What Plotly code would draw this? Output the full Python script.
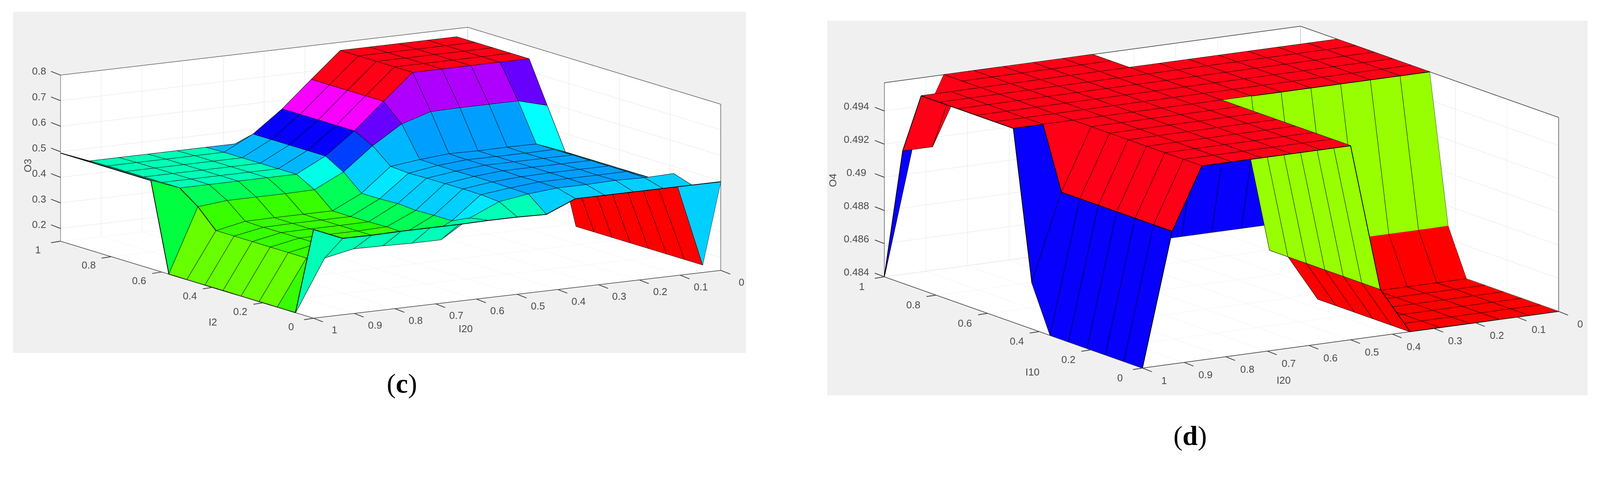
import colorsys
import numpy as np
import plotly.graph_objects as go

# the browser window stops at 4096 wide, so reference x positions are squeezed by SX
W, H = 4096, 1222
SX = W / 4478

# input grid, 15 points each way; index 0 of I20 sits at the front corner (I20 = 1)
I20_GRID = [1, 13/14, 12/14, 11/14, 10/14, 9/14, 8/14, 7/14, 6/14, 5/14, 4/14, 3/14, 2/14, 1/14, 0]
IN_GRID = [0, 1/14, 2/14, 3/14, 4/14, 5/14, 6/14, 7/14, 8/14, 9/14, 10/14, 11/14, 12/14, 13/14, 1]

# panel (c): O3 over I2 (rows) and I20 (columns)
O3 = [
    [.497, .449, .448, .45, .45, .45, .452, .452, .449, .497, .497, .497, .497, .497, .497],
    [.15, .351, .374, .372, .369, .369, .44, .49, .507, .517, .517, .52, .517, .52, .15],
    [.15, .328, .351, .351, .351, .351, .407, .496, .509, .519, .519, .519, .52, .476, .15],
    [.15, .328, .35, .351, .351, .351, .407, .497, .511, .518, .52, .52, .52, .476, .15],
    [.15, .328, .35, .351, .351, .354, .405, .496, .511, .52, .52, .52, .52, .476, .15],
    [.15, .328, .35, .351, .351, .352, .41, .496, .51, .52, .52, .52, .52, .476, .15],
    [.15, .328, .349, .351, .351, .351, .407, .494, .511, .52, .519, .519, .52, .476, .15],
    [.15, .328, .351, .352, .352, .352, .407, .499, .5125, .522, .52, .521, .52, .476, .15],
    [.15, .40, .411, .411, .411, .413, .469, .558, .63, .665, .667, .667, .667, .636, .15],
    [.495, .452, .452, .452, .452, .452, .51, .595, .697, .797, .797, .797, .797, .797, .47],
    [.495, .452, .452, .452, .452, .452, .51, .595, .697, .797, .797, .797, .797, .797, .47],
    [.495, .452, .452, .452, .452, .452, .51, .595, .697, .797, .797, .797, .797, .797, .47],
    [.495, .452, .452, .452, .452, .452, .51, .595, .697, .797, .797, .797, .797, .797, .47],
    [.495, .452, .452, .452, .452, .452, .51, .595, .697, .797, .797, .797, .797, .797, .47],
    [.495, .45, .45, .45, .45, .45, .45, .45, .45, .45, .45, .45, .45, .45, .45],
]

# panel (d): O4 over I10 (rows) and I20 (columns)
O4 = [
    [.484, .492, .4957, .4957, .4957, .4957, .4957, .4957, .4868, .484, .484, .484, .484, .484, .484],
    [.484, .492, .4957, .4957, .4957, .4957, .4957, .4957, .4868, .484, .484, .484, .484, .484, .484],
    [.484, .492, .4957, .4957, .4957, .4957, .4957, .4957, .4868, .484, .484, .484, .484, .484, .484],
    [.484, .492, .4957, .4957, .4957, .4957, .4957, .4957, .4868, .484, .484, .484, .484, .484, .484],
    [.484, .492, .4957, .4957, .4957, .4957, .4957, .4957, .4868, .484, .484, .484, .484, .484, .484],
    [.484, .492, .4957, .4957, .4957, .4957, .4957, .4957, .4868, .484, .484, .484, .484, .484, .484],
    [.4868, .492, .4957, .4957, .4957, .4957, .4957, .4957, .4868, .4868, .4868, .4868, .4868, .4868, .4868],
    [.4957, .4957, .4957, .4957, .4957, .4957, .4957, .4957, .4957, .4957, .4957, .4957, .4957, .4957, .4957],
    [.4957, .4957, .4957, .4957, .4957, .4957, .4957, .4957, .4957, .4957, .4957, .4957, .4957, .4957, .4957],
    [.4957, .4957, .4957, .4957, .4957, .4957, .4957, .4957, .4957, .4957, .4957, .4957, .4957, .4957, .4957],
    [.4957, .4957, .4957, .4957, .4957, .4957, .4957, .4957, .4957, .4957, .4957, .4957, .4957, .4957, .4957],
    [.4957, .4957, .4957, .4957, .4957, .4957, .4957, .4957, .4957, .4957, .4957, .4957, .4957, .4957, .4957],
    [.4957, .4957, .4957, .4957, .4957, .4957, .4957, .4957, .4957, .4957, .4957, .4957, .4957, .4957, .4957],
    [.492, .492, .4957, .4957, .4957, .4957, .4957, .4957, .492, .492, .492, .492, .492, .492, .492],
    [.484, .492, .4957, .4957, .4957, .4957, .4957, .4957, .484, .484, .484, .484, .484, .484, .484],
]

X_TICKS = [0, .1, .2, .3, .4, .5, .6, .7, .8, .9, 1]
Y_TICKS = [0, .2, .4, .6, .8, 1]
O3_TICKS = [.2, .3, .4, .5, .6, .7, .8]
O3_LABELS = ["0.2", "0.3", "0.4", "0.5", "0.6", "0.7", "0.8"]
O4_TICKS = [.484, .486, .488, .49, .492, .494]
O4_LABELS = ["0.484", "0.486", "0.488", "0.49", "0.492", "0.494"]

TICK_FONT = dict(family="Liberation Sans", size=26, color="#4a4a4a")
TICK_COLOR = "#404040"


def hsv64(z, zmin, zmax):
    # MATLAB hsv(64) lookup
    idx = min(int((z - zmin) / (zmax - zmin) * 64), 63)
    r, g, b = colorsys.hsv_to_rgb(idx / 64, 1, 1)
    return f"rgb({int(r*255)},{int(g*255)},{int(b*255)})"


def surface_traces(grid, zmin, zmax, scene):
    z = np.array(grid)
    xs, ys = np.meshgrid(I20_GRID, IN_GRID)
    n = z.shape[0]
    a, b, c, colors = [], [], [], []
    for j in range(n - 1):
        for i in range(n - 1):
            p = j * n + i
            col = hsv64(z[j, i + 1], zmin, zmax)
            a += [p, p]
            b += [p + 1, p + n + 1]
            c += [p + n + 1, p + n]
            colors += [col, col]
    mesh = go.Mesh3d(x=xs.ravel(), y=ys.ravel(), z=z.ravel(), i=a, j=b, k=c, facecolor=colors,
                     flatshading=True, hoverinfo="skip", scene=scene,
                     lighting=dict(ambient=1, diffuse=0, specular=0, fresnel=0, roughness=1))
    lx, ly, lz = [], [], []
    for j in range(n):
        lx += list(xs[j]) + [None]
        ly += list(ys[j]) + [None]
        lz += list(z[j]) + [None]
    for i in range(n):
        lx += list(xs[:, i]) + [None]
        ly += list(ys[:, i]) + [None]
        lz += list(z[:, i]) + [None]
    edges = go.Scatter3d(x=lx, y=ly, z=lz, mode="lines", line=dict(color="black", width=4),
                         hoverinfo="skip", showlegend=False, scene=scene)
    # back walls and floor edges of the box
    bx = [1, 1, 0, 0, None, 0, 0, None, 1, 1, None, 1, 0, 0]
    by = [1, 1, 1, 0, None, 1, 1, None, 1, 0, None, 0, 0, 0]
    bz = [zmin, zmax, zmax, zmax, None, zmin, zmax, None, zmin, zmin, None, zmin, zmin, zmax]
    box = go.Scatter3d(x=bx, y=by, z=bz, mode="lines", line=dict(color="#333333", width=3),
                       hoverinfo="skip", showlegend=False, scene=scene)
    return [mesh, edges, box]


def axis(tickvals, rng):
    return dict(title=dict(text=""), range=rng, tickvals=tickvals, showticklabels=False,
                showbackground=True, backgroundcolor="white", gridcolor="#dcdcdc", gridwidth=1.5,
                zeroline=False, showline=False, ticks="", showspikes=False)


def dom(x0, x1, y0, y1):
    return dict(x=[x0 / W, x1 / W], y=[1 - y1 / H, 1 - y0 / H])


def tick_notes(zmin, zticks, zlabels, y_off, x_off, z_off):
    # labels and tick marks hang off the floor and left edge of the box
    notes = []

    def add(x, y, z, text, off, tick):
        notes.append(dict(x=x, y=y, z=z, text=text, showarrow=False, font=TICK_FONT,
                          xshift=off[0] * SX, yshift=-off[1]))
        notes.append(dict(x=x, y=y, z=z, text=" ", font=dict(size=1), showarrow=True, arrowhead=0,
                          arrowwidth=2, arrowcolor=TICK_COLOR, standoff=0, startstandoff=0,
                          ax=tick[0] * SX, ay=tick[1]))

    for v in Y_TICKS:
        add(1, v, zmin, str(v), y_off, (-28, 4))
    for v in X_TICKS:
        add(v, 0, zmin, str(v), x_off, (28, 10))
    for v, t in zip(zticks, zlabels):
        add(1, 1, v, t, z_off, (-28, -10))
    return notes


def title_note(text, x, y, angle=0):
    return dict(text=text, x=x * SX / W, y=1 - y / H, xref="paper", yref="paper", showarrow=False,
                textangle=angle, font=TICK_FONT)


def panel_rect(x0, x1, y0, y1):
    return dict(type="rect", xref="paper", yref="paper", layer="below", line=dict(width=0),
                fillcolor="#f0f0f0", x0=x0 * SX / W, x1=x1 * SX / W, y0=1 - y1 / H, y1=1 - y0 / H)


fig = go.Figure()
for tr in surface_traces(O3, .15, .8, "scene"):
    fig.add_trace(tr)
for tr in surface_traces(O4, .484, .4957, "scene2"):
    fig.add_trace(tr)

K3, K4 = 2.774, 2.483
DIST = 20

fig.update_layout(
    width=W, height=H, margin=dict(l=0, r=0, t=0, b=0), paper_bgcolor="white",
    showlegend=False,
    scene=dict(
        domain=dom(40, 1960, 0, 885), bgcolor="rgba(0,0,0,0)",
        xaxis=axis(X_TICKS, [1, 0]),
        yaxis=axis(Y_TICKS, [0, 1]),
        zaxis=axis(O3_TICKS, [.1495, .8005]),
        aspectmode="manual", aspectratio=dict(x=K3, y=K3, z=.3537 * K3),
        camera=dict(projection=dict(type="orthographic"), up=dict(x=0, y=0, z=1),
                    eye=dict(x=-.5182 * DIST, y=-.8341 * DIST, z=.1891 * DIST)),
        annotations=tick_notes(.15, O3_TICKS, O3_LABELS, (-63, 22), (58, 30), (-60, -10)),
    ),
    scene2=dict(
        domain=dom(2158, 4096, 0, 1010), bgcolor="rgba(0,0,0,0)",
        xaxis=axis(X_TICKS, [1, 0]),
        yaxis=axis(Y_TICKS, [0, 1]),
        zaxis=axis(O4_TICKS, [.48398, .49572]),
        aspectmode="manual", aspectratio=dict(x=K4, y=K4, z=.4077 * K4),
        camera=dict(projection=dict(type="orthographic"), up=dict(x=0, y=0, z=1),
                    eye=dict(x=-.5142 * DIST, y=-.8291 * DIST, z=.2194 * DIST)),
        annotations=tick_notes(.484, O4_TICKS, O4_LABELS, (-63, 25), (60, 32), (-78, -12)),
    ),
    shapes=[panel_rect(36.5, 2088, 30, 904), panel_rect(2315, 4443, 53, 1013)],
    annotations=[
        title_note("O3", 59, 404, -90), title_note("I2", 582, 842), title_note("I20", 1281, 859),
        title_note("O4", 2331, 462, -90), title_note("I10", 2889, 970), title_note("I20", 3614, 991),
        dict(text="(<b>c</b>)", x=1080 * SX / W, y=1 - 1023 / H, xref="paper", yref="paper", showarrow=False,
             font=dict(family="Liberation Serif", size=70, color="black")),
        dict(text="(<b>d</b>)", x=3380 * SX / W, y=1 - 1157 / H, xref="paper", yref="paper", showarrow=False,
             font=dict(family="Liberation Serif", size=70, color="black")),
    ],
)

fig.write_html("out.html", config={"displayModeBar": False},
               post_script="document.body.style.margin='0';")
